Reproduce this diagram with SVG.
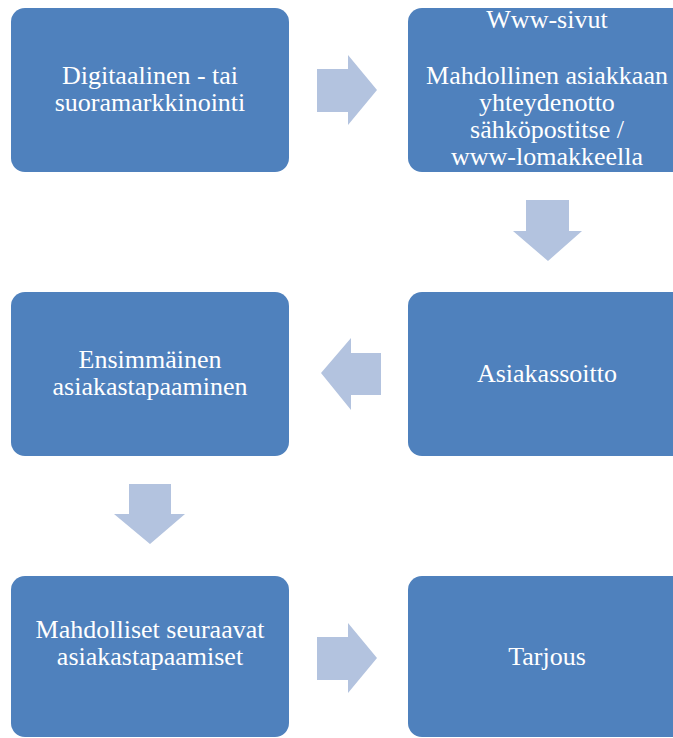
<svg xmlns="http://www.w3.org/2000/svg" width="673" height="738" viewBox="0 0 673 738">
<defs>
<style>
.node{fill:#4F81BD;}
.arr{fill:#B3C3DF;}
text{font-family:"Liberation Serif","Times New Roman",serif;font-size:26px;fill:#FFFFFF;text-anchor:middle;}
</style>
</defs>
<rect width="673" height="738" fill="#FFFFFF"/>
<g id="connectors">
<polygon class="arr" points="317,69 348,69 348,55 377,90 348,125 348,112 317,112"/>
<polygon class="arr" points="526,200 569,200 569,231 582,231 548,261 513,231 526,231"/>
<polygon class="arr" points="381,353 351,353 351,338 321,373 351,410 351,395 381,395"/>
<polygon class="arr" points="129,484 171,484 171,514 185,514 150,544 114,514 129,514"/>
<polygon class="arr" points="317,637 348,637 348,623 377,658 348,693 348,680 317,680"/>
</g>
<g id="node1">
<rect class="node" x="11" y="8" width="278" height="164" rx="14"/>
<text x="150" y="84">Digitaalinen - tai</text>
<text x="150" y="111">suoramarkkinointi</text>
</g>
<g id="node2">
<rect class="node" x="408" y="8" width="278" height="164" rx="14"/>
<text x="547" y="28">Www-sivut</text>
<text x="547" y="84">Mahdollinen asiakkaan</text>
<text x="547" y="111">yhteydenotto</text>
<text x="547" y="138">sähköpostitse /</text>
<text x="547" y="165">www-lomakkeella</text>
</g>
<g id="node3">
<rect class="node" x="408" y="292" width="278" height="164" rx="14"/>
<text x="547" y="382">Asiakassoitto</text>
</g>
<g id="node4">
<rect class="node" x="11" y="292" width="278" height="164" rx="14"/>
<text x="150" y="368">Ensimmäinen</text>
<text x="150" y="395">asiakastapaaminen</text>
</g>
<g id="node5">
<rect class="node" x="11" y="576" width="278" height="161" rx="14"/>
<text x="150" y="638">Mahdolliset seuraavat</text>
<text x="150" y="665">asiakastapaamiset</text>
</g>
<g id="node6">
<rect class="node" x="408" y="576" width="278" height="161" rx="14"/>
<text x="547" y="665">Tarjous</text>
</g>
</svg>
